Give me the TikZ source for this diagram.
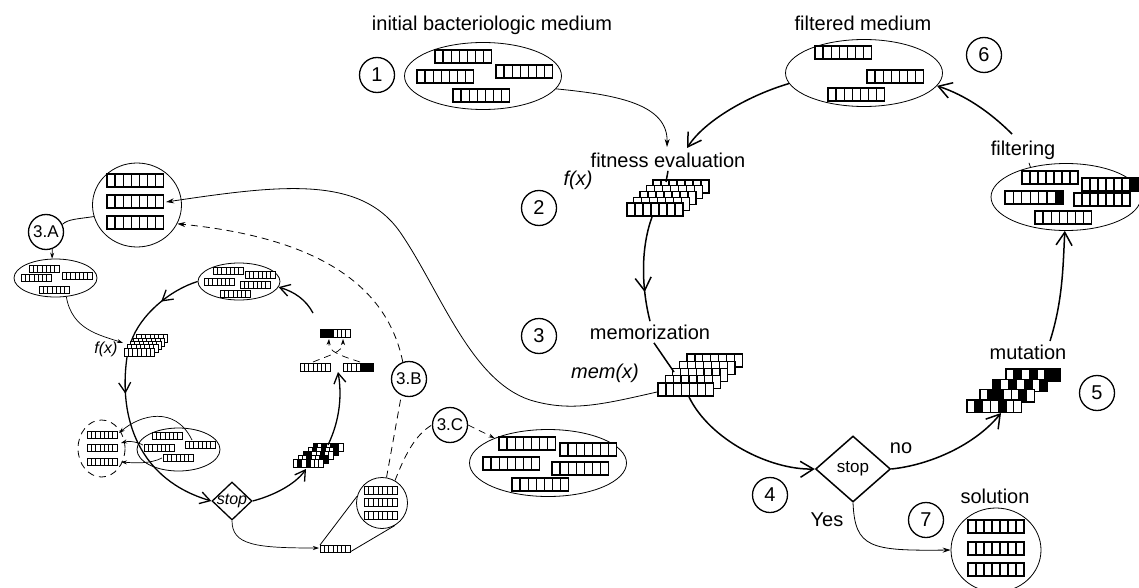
\documentclass[tikz,border=0pt]{standalone}
\usepackage{fontspec}
\setmainfont{Liberation Sans}
\usetikzlibrary{arrows.meta,shapes.geometric,decorations.markings}

% one chromosome of 7 genes: [black genes]{x}{y}{gene width}{gene height}
\newcommand\chrom[5][0]{%
  \fill[white] (#2,#3) rectangle ++({7*#4},#5);
  \foreach \gene in {#1}{\ifnum\gene>0 \fill ({#2+(\gene-1)*#4},#3) rectangle ++(#4,#5);\fi}
  \foreach \gene in {1,...,7}{\draw ({#2+(\gene-1)*#4},#3) rectangle ++(#4,#5);}
}

\begin{document}
\begin{tikzpicture}[x=1pt,y=-1pt,
  font=\fontsize{20}{24}\selectfont,
  num/.style={draw,circle,line width=1.3pt,minimum size=35pt,inner sep=0pt},
  pool/.style={draw,ellipse,line width=0.8pt,inner sep=0pt},
  cycleline/.style={line width=1.5pt},
  scycleline/.style={line width=1.3pt},
  flow/.style={cycleline,-{Straight Barb[length=13pt,width=16pt]}},
  sflow/.style={scycleline,-{Straight Barb[length=10pt,width=12pt]}},
  link/.style={line width=0.8pt,-{Stealth[length=8pt,width=5pt]}},
  slink/.style={line width=0.7pt,-{Stealth[length=6pt,width=4pt]}},
  dash7/.style={dash pattern=on 7pt off 5pt},
  midflow/.style={postaction={decorate},decoration={markings,
    mark=at position #1 with {\arrow{Straight Barb[length=13pt,width=16pt]}}}},
  smidflow/.style={postaction={decorate},decoration={markings,
    mark=at position #1 with {\arrow{Straight Barb[length=10pt,width=12pt]}}}},
  genebig/.style={line width=1.3pt},
  genesmall/.style={line width=0.8pt},
  it/.style={font=\itshape\fontsize{20}{24}\selectfont},
  sit/.style={font=\itshape\fontsize{16}{19}\selectfont}
]
\useasboundingbox (0,0) rectangle (1139,588);

% media of the main cycle
\node[pool,minimum width=157pt,minimum height=67pt] (init) at (483,76) {};
\node (initlab) at (492,25) {initial bacteriologic medium};
\node[num] (n1) at (377,75) {1};
\node[pool,minimum width=157pt,minimum height=67pt] (filt) at (864,73) {};
\node (filtlab) at (863,23) {filtered medium};
\node[num] (n6) at (984,55) {6};
\node[pool,minimum width=150pt,minimum height=67pt] (filter) at (1066,197) {};
\node (filterlab) at (1023,150) {filtering};
\begin{scope}[genebig]
\foreach \xx/\yy in {435/50,417/70,496/65,453/89} {\chrom{\xx}{\yy}{8.1}{13}}
\foreach \xx/\yy in {815/46,867/70,828/88} {\chrom{\xx}{\yy}{8.1}{13}}
\chrom{1022}{171}{8}{13}
\chrom[7]{1082}{178}{8}{13}
\chrom[7]{1005}{191}{8.4}{13}
\chrom{1074}{193}{8}{13}
\chrom{1035}{211}{8.1}{13}
\end{scope}

% fitness and memorization
\node (fitlab) at (668,160) {fitness evaluation};
\node[it] (fx) at (578,180) {f(x)};
\node[num] (n2) at (539,208) {2};
\begin{scope}[genebig]
\foreach \kk in {4,3,2,1,0} {\chrom{627+6.5*\kk}{203-5.75*\kk}{8}{13}}
\end{scope}
\coordinate (fitIn) at (687,148);
\coordinate (fitIn2) at (667,147);
\coordinate (fitTop) at (666,182);
\coordinate (fitBot) at (652,217);

\node (memlab) at (650,332) {memorization};
\node[it] (memx) at (605,373) {mem(x)};
\node[num] (n3) at (539,336) {3};
\begin{scope}[genebig]
\foreach \kk in {4,3,2,1,0} {\chrom{658+7.25*\kk}{383-7.25*\kk}{7.9}{13}}
\end{scope}
\coordinate (memTop) at (674,372);
\coordinate (memBot) at (689,397);
\coordinate (memL) at (657,392);

% stop, mutation, solution
\node[draw,diamond,line width=1.5pt,minimum width=75pt,minimum height=66pt,inner sep=0pt,
  font=\fontsize{17}{20}\selectfont] (stop) at (853,469) {stop};
\node[num] (n4) at (770,495) {4};
\node (nolab) at (901,448) {no};
\node (yeslab) at (827,520) {Yes};
\node (mutlab) at (1028,352) {mutation};
\node[num] (n5) at (1097,393) {5};
\begin{scope}[genebig]
\chrom[2,4,6,7]{1006}{369}{7.8}{12.3}
\chrom[1,3,5,7]{993}{379.3}{7.8}{12.3}
\chrom[2,3,6]{980}{389.6}{7.8}{12.3}
\chrom[2,5]{967}{400}{7.8}{12.3}
\end{scope}
\coordinate (mutIn) at (1001,413);
\coordinate (mutTop) at (1050,341);
\coordinate (filtTop) at (1012,134);
\node[draw,ellipse,line width=0.8pt,minimum width=90pt,minimum height=84pt,inner sep=0pt] (sol) at (996,550) {};
\node (sollab) at (995,496) {solution};
\node[num] (n7) at (926,520) {7};
\begin{scope}[genebig]
\foreach \yy in {520,542,563} {\chrom{968}{\yy}{8}{13}}
\end{scope}

\draw[flow] (filt.188) .. controls (750,95) and (705,120) .. (fitIn);
\draw[link] (init.350) .. controls (620,95) and (668,105) .. (fitIn2);
\draw[cycleline] (fitlab.south) -- (fitTop);
\draw[cycleline,midflow=0.72] (fitBot) .. controls (640,250) and (642,290) .. (memlab.north);
\draw[cycleline] (memlab.-70) -- (memTop);
\draw[flow] (memBot) .. controls (710,440) and (770,470) .. (stop.west);
\draw[flow] (stop.east) .. controls (930,465) and (975,445) .. (mutIn);
\draw[flow] (mutTop) .. controls (1063,300) and (1063,265) .. (filter.268);
\draw[flow] (filtTop) .. controls (990,112) and (965,95) .. (filt.350);
\draw[line width=0.8pt] ([xshift=6pt]filterlab.south) -- (filter.140);
\draw[link] (stop.south) .. controls (855,548) and (870,551) .. (sol.west);

% memorized pool and its inner cycle
\node[pool,minimum width=89pt,minimum height=84pt] (store) at (137,205) {};
\begin{scope}[genebig]
\foreach \yy in {174,195,216} {\chrom{107}{\yy}{8.1}{13}}
\end{scope}
\coordinate (storeMid) at (166,202);
\node[num,font=\fontsize{17}{20}\selectfont] (n3A) at (46,232) {3.A};
\node[num,font=\fontsize{17}{20}\selectfont] (n3B) at (409,379) {3.B};
\node[num,font=\fontsize{17}{20}\selectfont] (n3C) at (450,425) {3.C};

\node[pool,minimum width=83pt,minimum height=38pt] (poolA) at (55.5,278) {};
\node[pool,minimum width=82pt,minimum height=37pt] (sfilt) at (239,281.5) {};
\node[pool,dash7,minimum width=47pt,minimum height=57pt] (smem) at (101.5,448.5) {};
\node[pool,minimum width=83pt,minimum height=43pt] (spop) at (178.5,449.5) {};
\node[pool,circle,minimum size=51pt] (zoomC) at (382,503) {};
\node[pool,minimum width=157pt,minimum height=67pt] (ellC) at (548,463) {};
\begin{scope}[genesmall]
\foreach \xx/\yy in {29/265,21/274,62/272,39/286} {\chrom{\xx}{\yy}{4.3}{7}}
\foreach \xx/\yy in {213/267,245/271,204/278,240/281,220/290} {\chrom{\xx}{\yy}{4.3}{7.5}}
\foreach \yy in {431,444,458} {\chrom{87}{\yy}{4.3}{7}}
\foreach \xx/\yy in {152/432,144/444,185/441,163/454} {\chrom{\xx}{\yy}{4.3}{7}}
\foreach \kk in {4,3,2,1,0} {\chrom{124+3.2*\kk}{348-3.3*\kk}{4.4}{8}}
\chrom{300}{363}{4.3}{8}
\chrom[5,6,7]{343}{363}{4.3}{8}
\chrom[1,2,3]{320}{329}{4.3}{8}
\chrom[1,3,5,6]{313}{443}{4.3}{8}
\chrom[2,4,7]{308}{447}{4.3}{8}
\chrom[1,2,5]{303}{451}{4.3}{8}
\chrom[3,6,7]{298}{455}{4.3}{8}
\chrom[2,4]{293}{459}{4.3}{8}
\chrom{320}{545}{4.3}{7.5}
\foreach \yy in {486,498,511} {\chrom{364}{\yy}{4.7}{8}}
\end{scope}
\begin{scope}[genebig]
\foreach \xx/\yy in {499/437,560/443,483/457,552/462,512/478} {\chrom{\xx}{\yy}{8.1}{13}}
\end{scope}
\node[sit] (sfx) at (106,349) {f(x)};
\node[draw,diamond,line width=1.3pt,minimum width=40pt,minimum height=38pt,inner sep=0pt] (sstop) at (232,501) {};
\node[sit] (sstoplab) at (sstop) {stop};

\coordinate (fxIn) at (123,343);
\coordinate (fxTop) at (131,342);
\coordinate (fxBot) at (127,357);
\coordinate (smutIn) at (306,469);
\coordinate (smutTop) at (328,445);
\coordinate (cxIn) at (338,372);
\coordinate (cxL) at (313,362);
\coordinate (cxR) at (360,362);
\coordinate (cxT1) at (329,339);
\coordinate (cxT2) at (343,339);
\coordinate (xoTop) at (313,313);
\coordinate (ssolIn) at (319,548);
\coordinate (ssolTL) at (320,545);
\coordinate (ssolBR) at (350,552);
\coordinate (pop1) at (192,440);
\coordinate (pop2) at (143,445);
\coordinate (pop3) at (162,458);
\coordinate (mem1) at (119,433);
\coordinate (mem2) at (121,443);
\coordinate (mem3) at (121,462);

\draw[line width=0.8pt] (store.195) .. controls (78,219) and (68,219) .. (n3A.25);
\draw[slink] (n3A.-70) -- (poolA.100);
\draw[slink] (poolA.-60) .. controls (72,330) and (100,335) .. (fxIn);
\draw[scycleline,smidflow=0.45] (sfilt.west) .. controls (170,290) and (140,315) .. (fxTop);
\draw[sflow,smidflow=0.2] (fxBot) .. controls (118,420) and (140,480) .. (sstop.west);
\draw[sflow] (sstop.east) .. controls (272,496) and (295,485) .. (smutIn);
\draw[sflow] (smutTop) .. controls (340,420) and (342,395) .. (cxIn);
\draw[slink,dash7] (cxL) .. controls (330,355) and (343,352) .. (cxT2);
\draw[slink,dash7] (cxR) .. controls (342,356) and (328,352) .. (cxT1);
\draw[sflow] (xoTop) .. controls (306,300) and (295,292) .. (sfilt.-8);
\draw[slink] (pop1) .. controls (175,405) and (140,415) .. (mem1);
\draw[slink] (pop2) .. controls (135,441) and (128,441) .. (mem2);
\draw[slink] (pop3) .. controls (150,464) and (135,463) .. (mem3);
\draw[slink] (sstop.south) .. controls (232,545) and (255,548) .. (ssolIn);
\draw[line width=0.8pt] (ssolTL) -- (zoomC.165);
\draw[line width=0.8pt] (ssolBR) -- (zoomC.-60);
\draw[line width=0.8pt,dash7] (zoomC.80) -- (n3B.-115);
\draw[line width=0.8pt,dash7] (zoomC.60) .. controls (405,455) and (415,435) .. (n3C.west);
\draw[slink,dash7] (n3C.east) -- (ellC.155);
\draw[link,dash7] (n3B.110) .. controls (390,300) and (340,240) .. (store.-25);
\draw[link] (memL) .. controls (600,405) and (570,412) .. (530,400)
  .. controls (470,380) and (440,290) .. (400,232)
  .. controls (360,175) and (280,185) .. (storeMid);
\end{tikzpicture}
\end{document}
